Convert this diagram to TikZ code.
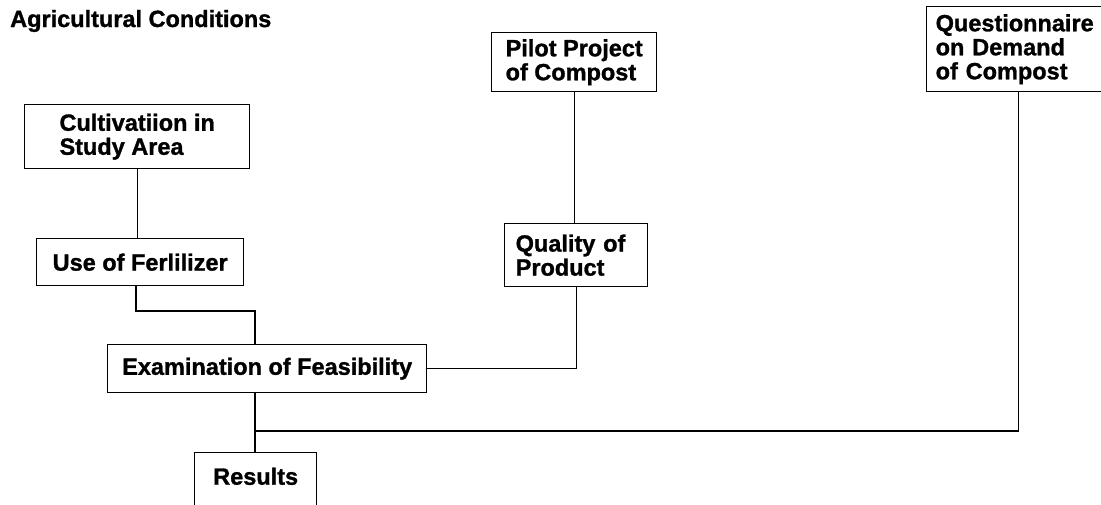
\documentclass[tikz,border=0pt]{standalone}
\usepackage{fontspec}
\setmainfont{Liberation Sans}[BoldFeatures={FakeBold=1.2}]
\begin{document}
\begin{tikzpicture}[x=1pt,y=-1pt,
  lbl/.style={font=\fontsize{23.5}{24}\selectfont\bfseries},
  box/.style={lbl, draw, line width=1.4pt, inner ysep=0pt, anchor=north west, align=left},
  conn/.style={line width=1.4pt}]
\useasboundingbox (0,0) rectangle (1101,504);
\node[lbl, anchor=base west, inner sep=0pt] (title) at (10,27) {Agricultural Conditions};
\node[box, minimum width=225pt, minimum height=64pt] (cult) at (24,104) {Cultivatiion in\\Study Area};
\node[box, minimum width=207pt, minimum height=47pt] (use) at (36,238) {Use of Ferlilizer};
\node[box, minimum width=319pt, minimum height=48pt] (exam) at (107,344) {Examination of Feasibility};
\node[box, minimum width=165pt, minimum height=59pt] (pilot) at (491,32) {Pilot Project\\of Compost};
\node[box, text width=121pt, inner xsep=11pt, minimum height=63pt] (quality) at (504,223) {Quality of\\Product};
\node[box, text width=166pt, inner xsep=9pt, minimum height=85pt] (quest) at (926,6) {Questionnaire\\on Demand\\of Compost};
\node[box, minimum width=122pt, text height=32pt, text depth=36pt] (results) at (194,452) {Results};
\coordinate (b1) at (136,311);
\coordinate (b2) at (255,311);
\coordinate (b3) at (255,431);
\draw[conn] (cult.south) -- (cult.south |- use.north);
\draw[conn] (b1 |- use.south) -- (b1) -- (b2) -- (b2 |- exam.north);
\draw[conn] (exam.east) -| (quality.south);
\draw[conn] (pilot.south) -- (pilot.south |- quality.north);
\draw[conn] (b3 |- exam.south) -- (b3 |- results.north);
\draw[conn] (quest.south) |- (b3);
\end{tikzpicture}
\end{document}
